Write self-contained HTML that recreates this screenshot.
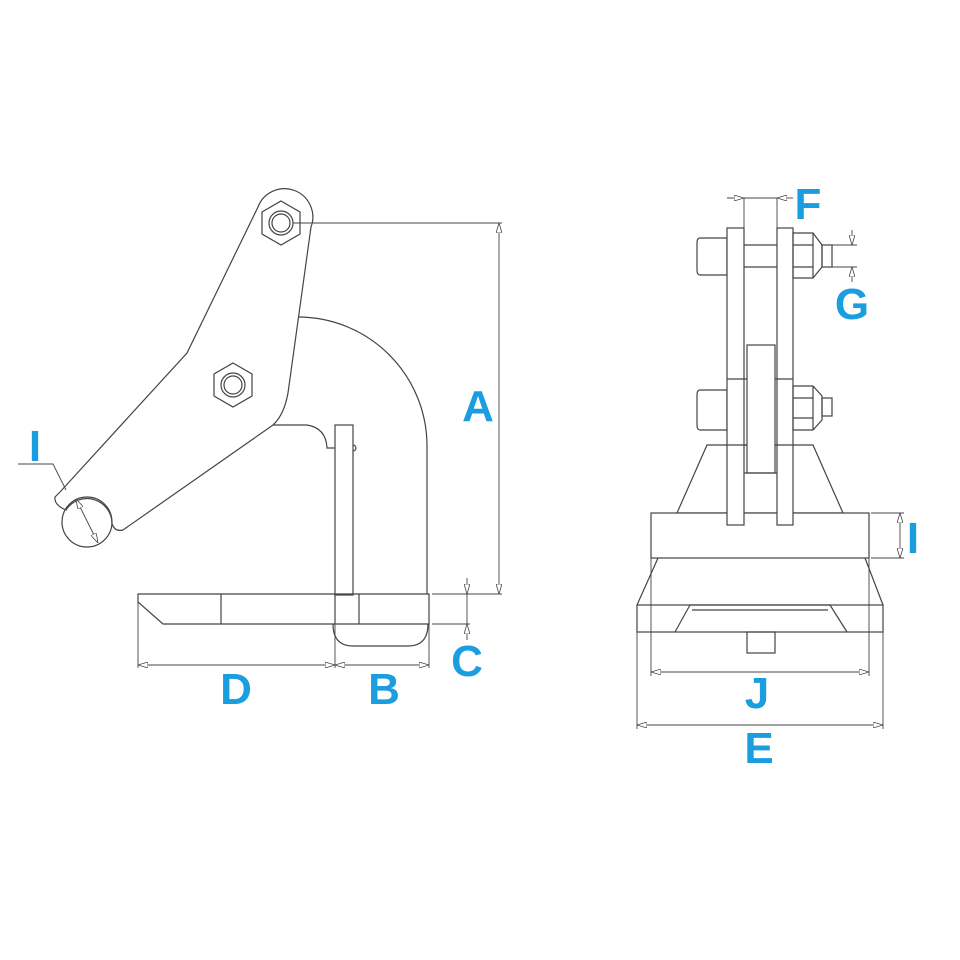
<!DOCTYPE html>
<html><head><meta charset="utf-8"><style>
html,body{margin:0;padding:0;background:#fff;}
svg{display:block}
text{font-family:"Liberation Sans",sans-serif;font-weight:bold;fill:#1a9ee0;font-size:44px;text-anchor:middle}
</style></head><body>
<svg width="960" height="960" viewBox="0 0 960 960" xmlns="http://www.w3.org/2000/svg">
<defs>
<marker id="ar" viewBox="0 0 10 6" refX="10" refY="3" markerWidth="10" markerHeight="6" orient="auto-start-reverse" markerUnits="userSpaceOnUse">
<path d="M0,0 L10,3 L0,6 Z" fill="#fff" stroke="#444" stroke-width="0.8"/></marker>
</defs>
<g fill="none" stroke="#444" stroke-width="1.2">
<!-- LEFT VIEW -->
<!-- arm -->
<path d="M258,207 A27,27 0 0 1 311,227 L288,393 Q284,415 273,425 L123,530 Q115,532 112,524 A25,25 0 0 0 66,510 Q54,505 55,497 L60,492 L187,353 Z"/>
<circle cx="87" cy="522" r="25"/>
<polygon points="281,201 300,212 300,234 281,245 262,234 262,212"/>
<circle cx="281" cy="223" r="12"/><circle cx="281" cy="223" r="9"/>
<polygon points="233,363 252,374 252,396 233,407 214,396 214,374"/>
<circle cx="233" cy="385" r="12"/><circle cx="233" cy="385" r="9"/>
<!-- body -->
<path d="M298,317 A129,129 0 0 1 427,446 L427,594"/>
<path d="M273,425 L307,425 Q326,428 327,448 L335,448"/>
<rect x="335" y="425" width="18" height="170"/>
<path d="M353,445 a3,3 0 0 1 0,6"/>
<!-- plate -->
<path d="M138,594 L429,594 L429,624 L163,624 L138,602 Z"/>
<line x1="221" y1="594" x2="221" y2="624"/>
<line x1="335" y1="594" x2="335" y2="624"/>
<line x1="359" y1="594" x2="359" y2="624"/>
<path d="M333,624 Q333,646 353,646 L408,646 Q428,646 428,624"/>
</g>
<g fill="none" stroke="#444" stroke-width="0.9">
<!-- dims left -->
<line x1="293" y1="223" x2="502" y2="223"/>
<line x1="432" y1="594" x2="502" y2="594"/>
<line x1="499" y1="223" x2="499" y2="594" marker-start="url(#ar)" marker-end="url(#ar)"/>
<line x1="432" y1="624" x2="470" y2="624"/>
<line x1="467" y1="578" x2="467" y2="594" marker-end="url(#ar)"/>
<line x1="467" y1="640" x2="467" y2="624" marker-end="url(#ar)"/>
<line x1="467" y1="594" x2="467" y2="624"/>
<line x1="138" y1="602" x2="138" y2="668"/>
<line x1="335" y1="624" x2="335" y2="668"/>
<line x1="429" y1="624" x2="429" y2="668"/>
<line x1="138" y1="665" x2="335" y2="665" marker-start="url(#ar)" marker-end="url(#ar)"/>
<line x1="335" y1="665" x2="429" y2="665" marker-start="url(#ar)" marker-end="url(#ar)"/>
<polyline points="18,464 53,464 66,490"/>
<line x1="76" y1="499" x2="98" y2="543" marker-start="url(#ar)" marker-end="url(#ar)"/>
</g>
<g fill="none" stroke="#444" stroke-width="1.2">
<!-- RIGHT VIEW -->
<path d="M707,445 L813,445 L843,513 L677,513 Z" fill="#fff"/>
<rect x="651" y="513" width="218" height="45" fill="#fff"/>
<path d="M700,238 L727,238 L727,275 L700,275 Q697,275 697,270 L697,243 Q697,238 700,238 Z"/>
<path d="M700,390 L727,390 L727,430 L700,430 Q697,430 697,425 L697,395 Q697,390 700,390 Z"/>
<rect x="727" y="228" width="17" height="297" fill="#fff"/>
<rect x="777" y="228" width="16" height="297" fill="#fff"/>
<line x1="744" y1="245" x2="777" y2="245"/><line x1="744" y1="267" x2="777" y2="267"/>
<line x1="727" y1="379" x2="793" y2="379"/><line x1="727" y1="445" x2="793" y2="445"/>
<rect x="747" y="345" width="28" height="128" fill="#fff"/>
<line x1="744" y1="473" x2="777" y2="473"/>
<path d="M793,233 L813,233 L822,245 L822,267 L813,278 L793,278 Z"/>
<line x1="793" y1="245" x2="813" y2="245"/><line x1="793" y1="267" x2="813" y2="267"/><line x1="813" y1="233" x2="813" y2="278"/>
<rect x="822" y="245" width="10" height="22"/>
<path d="M793,386 L813,386 L822,396 L822,420 L813,430 L793,430 Z"/>
<line x1="793" y1="398" x2="813" y2="398"/><line x1="793" y1="418" x2="813" y2="418"/><line x1="813" y1="386" x2="813" y2="430"/>
<rect x="822" y="398" width="10" height="18"/>
<path d="M658,558 L637,605 M865,558 L883,605"/>
<rect x="637" y="605" width="246" height="27"/>
<path d="M690,605 L830,605 M692,610 L828,610 M690,605 L675,632 M830,605 L847,632"/>
<rect x="747" y="632" width="28" height="21"/>
</g>
<g fill="none" stroke="#444" stroke-width="0.9">
<line x1="744" y1="198" x2="744" y2="228"/><line x1="777" y1="198" x2="777" y2="228"/>
<line x1="727" y1="198" x2="744" y2="198" marker-end="url(#ar)"/>
<line x1="793" y1="198" x2="777" y2="198" marker-end="url(#ar)"/>
<line x1="744" y1="198" x2="777" y2="198"/>
<line x1="832" y1="245" x2="857" y2="245"/><line x1="832" y1="267" x2="857" y2="267"/>
<line x1="852" y1="230" x2="852" y2="245" marker-end="url(#ar)"/>
<line x1="852" y1="282" x2="852" y2="267" marker-end="url(#ar)"/>
<line x1="871" y1="513" x2="904" y2="513"/><line x1="871" y1="558" x2="904" y2="558"/>
<line x1="900" y1="513" x2="900" y2="558" marker-start="url(#ar)" marker-end="url(#ar)"/>
<line x1="651" y1="558" x2="651" y2="676"/><line x1="869" y1="558" x2="869" y2="676"/>
<line x1="651" y1="672" x2="869" y2="672" marker-start="url(#ar)" marker-end="url(#ar)"/>
<line x1="637" y1="632" x2="637" y2="729"/><line x1="883" y1="632" x2="883" y2="729"/>
<line x1="637" y1="725" x2="883" y2="725" marker-start="url(#ar)" marker-end="url(#ar)"/>
</g>
<text x="478" y="421">A</text>
<text x="467" y="676">C</text>
<text x="236" y="704">D</text>
<text x="384" y="704">B</text>
<text x="35" y="461">I</text>
<text x="808" y="219">F</text>
<text x="852" y="319">G</text>
<text x="913" y="553">I</text>
<text x="757" y="708">J</text>
<text x="759" y="763">E</text>
</svg>
</body></html>
